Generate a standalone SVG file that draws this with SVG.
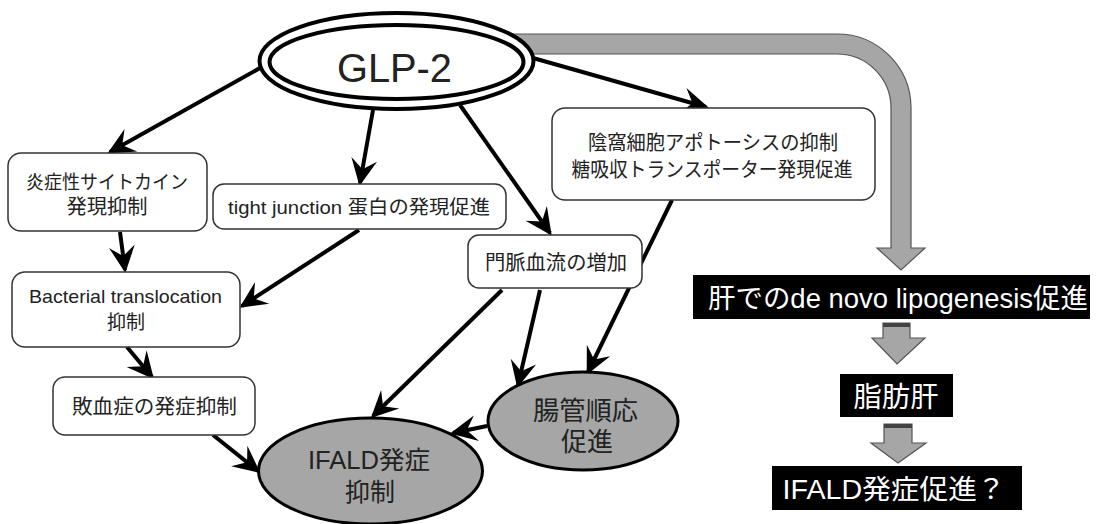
<svg xmlns="http://www.w3.org/2000/svg" width="1099" height="524" viewBox="0 0 1099 524">
<defs>
<style>
.box{fill:#fff;stroke:#333;stroke-width:1.5}
.t{font-family:"Liberation Sans","Noto Sans CJK JP",sans-serif;fill:#222;text-anchor:middle}
.w{font-family:"Liberation Sans","Noto Sans CJK JP",sans-serif;fill:#fff;text-anchor:middle}
.blk{fill:#000}
.gell{fill:#a6a6a6;stroke:#000;stroke-width:3}
.con{stroke:#000;stroke-width:4;fill:none;marker-end:url(#ah)}
.gray{fill:#a6a6a6;stroke:#555;stroke-width:1.2}
</style>
<marker id="ah" viewBox="-28 -15 32 30" refX="0" refY="0" markerWidth="32" markerHeight="30" markerUnits="userSpaceOnUse" orient="auto">
<path d="M3,0 L-24,-13 L-14,0 L-24,13 Z" fill="#000"/>
</marker>
</defs>
<rect width="1099" height="524" fill="#fff"/>

<g id="big-arrow">
<path class="gray" d="M497,34 H837 A74,74 0 0 1 911,108 V248 H925 L901,270 L877,248 H891 V108 A54,54 0 0 0 837,54 H497 Z"/>
</g>

<g id="connectors">
<line class="con" x1="260" y1="68" x2="110" y2="152"/>
<line class="con" x1="373" y1="110" x2="360" y2="183"/>
<line class="con" x1="460" y1="105" x2="550" y2="233"/>
<line class="con" x1="533" y1="58" x2="706" y2="107"/>
<line class="con" x1="120" y1="232" x2="125" y2="270"/>
<line class="con" x1="359" y1="230" x2="242" y2="306"/>
<line class="con" x1="127" y1="347" x2="152" y2="377"/>
<line class="con" x1="213" y1="435" x2="258" y2="471"/>
<line class="con" x1="502" y1="290" x2="373" y2="416"/>
<line class="con" x1="540" y1="290" x2="518" y2="385"/>
<line class="con" x1="672" y1="200" x2="588" y2="372"/>
<line class="con" x1="487" y1="426" x2="453" y2="433"/>
</g>

<g id="glp2">
<ellipse cx="396.5" cy="61" rx="137" ry="48" fill="#fff" stroke="#000" stroke-width="4"/>
<ellipse cx="396.5" cy="62" rx="127" ry="37" fill="none" stroke="#000" stroke-width="4"/>
<text class="t" x="394.5" y="82" font-size="40" textLength="115" lengthAdjust="spacingAndGlyphs" fill="#111">GLP-2</text>
</g>

<g id="crypt">
<rect class="box" x="552" y="108" width="323" height="92" rx="13"/>
<text class="t" x="713" y="150" font-size="20" textLength="250" lengthAdjust="spacingAndGlyphs">陰窩細胞アポトーシスの抑制</text>
<text class="t" x="712" y="177" font-size="20" textLength="281" lengthAdjust="spacingAndGlyphs">糖吸収トランスポーター発現促進</text>
</g>

<g id="cytokine">
<rect class="box" x="8" y="153" width="199" height="78" rx="13"/>
<text class="t" x="107" y="189" font-size="19" textLength="162" lengthAdjust="spacingAndGlyphs">炎症性サイトカイン</text>
<text class="t" x="107" y="214" font-size="20" textLength="81" lengthAdjust="spacingAndGlyphs">発現抑制</text>
</g>

<g id="tight">
<rect class="box" x="213" y="184" width="293" height="45" rx="11"/>
<text class="t" x="359" y="214" font-size="19" textLength="262" lengthAdjust="spacingAndGlyphs">tight junction 蛋白の発現促進</text>
</g>

<g id="portal">
<rect class="box" x="468" y="235" width="174" height="53" rx="11"/>
<text class="t" x="556" y="270" font-size="20" textLength="142" lengthAdjust="spacingAndGlyphs">門脈血流の増加</text>
</g>

<g id="bacterial">
<rect class="box" x="12" y="272" width="228" height="75" rx="13"/>
<text class="t" x="125.5" y="303" font-size="19" textLength="193" lengthAdjust="spacingAndGlyphs">Bacterial translocation</text>
<text class="t" x="126" y="329" font-size="19">抑制</text>
</g>

<g id="sepsis">
<rect class="box" x="53" y="377" width="202" height="58" rx="12"/>
<text class="t" x="154.5" y="414" font-size="20" textLength="165" lengthAdjust="spacingAndGlyphs">敗血症の発症抑制</text>
</g>

<g id="ifald">
<ellipse class="gell" cx="370.5" cy="471" rx="112" ry="53"/>
<text class="t" x="369" y="469" font-size="25" textLength="122" lengthAdjust="spacingAndGlyphs">IFALD発症</text>
<text class="t" x="370" y="501" font-size="25">抑制</text>
</g>

<g id="adapt">
<ellipse class="gell" cx="583" cy="421" rx="95" ry="49"/>
<text class="t" x="585.5" y="420" font-size="26" textLength="105" lengthAdjust="spacingAndGlyphs">腸管順応</text>
<text class="t" x="587" y="451" font-size="26">促進</text>
</g>

<g id="lipogenesis">
<rect class="blk" x="693" y="275" width="397" height="44"/>
<text class="w" x="898" y="308" font-size="27" textLength="380" lengthAdjust="spacingAndGlyphs">肝でのde novo lipogenesis促進</text>
</g>

<g id="arrow2">
<path class="gray" d="M883,323 H910 V338 H925 L897,364 L872,338 H883 Z"/>
<rect x="883" y="323" width="27" height="4" fill="#444"/>
</g>

<g id="fattyliver">
<rect class="blk" x="840" y="374" width="113" height="43"/>
<text class="w" x="896" y="407" font-size="28" textLength="85" lengthAdjust="spacingAndGlyphs">脂肪肝</text>
</g>

<g id="arrow3">
<path class="gray" d="M884,424 H912 V443 H926 L898,463 L871,443 H884 Z"/>
<rect x="884" y="424" width="28" height="4" fill="#444"/>
</g>

<g id="ifald-promo">
<rect class="blk" x="772" y="466" width="250" height="44"/>
<text class="w" x="894" y="499" font-size="27" textLength="223" lengthAdjust="spacingAndGlyphs">IFALD発症促進？</text>
</g>
</svg>
